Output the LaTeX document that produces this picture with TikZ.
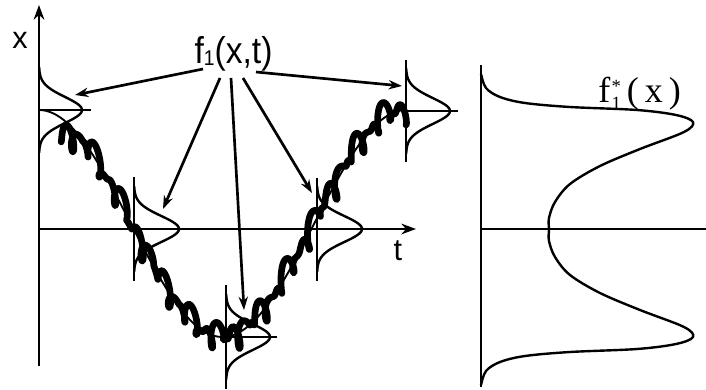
\documentclass[tikz,border=0pt]{standalone}
\usepackage{fontspec}
\setmainfont{Liberation Sans}
\newfontfamily\serifont{Liberation Serif}
\usetikzlibrary{arrows.meta}
\newcommand\gaussplot[4]{% base, center, amplitude, sigma
  \draw[pdf] plot[domain=-3.3:3.3, samples=70, smooth, variable=\u]
    ({#1 + #3*exp(-\u*\u/2)}, {#2 + #4*\u});}
\begin{document}
\begin{tikzpicture}[x=0.75pt,y=-0.75pt,
  declare function={m(\s)=223.5-113.5*cos(0.980926*(\s-39));},
  axis/.style={line width=2.2pt},
  axarrow/.style={axis,-{Stealth[length=11pt,width=8pt]}},
  pdf/.style={line width=1.8pt},
  meanline/.style={line width=1.4pt},
  noisy/.style={line width=5pt,line join=round,line cap=round},
  arr/.style={line width=2pt,-{Stealth[length=10pt,width=7pt]}},
  lab/.style={inner sep=0pt},
  ]
\useasboundingbox (0,0) rectangle (706,389);

% ---- left axes
\coordinate (xbot) at (39,366);
\coordinate (xtop) at (39,5);
\coordinate (t0) at (39,229);
\coordinate (t1) at (416,229);
\draw[axarrow] (xbot) -- (xtop);
\draw[axarrow] (t0) -- (t1);
\node[lab] (xlab) at (20,40) {\fontsize{23}{24}\selectfont x};
\node[lab] (tlab) at (398,251) {\fontsize{23}{24}\selectfont t};

% ---- mean trajectory
\draw[meanline] plot[domain=39:406, samples=120, smooth, variable=\t] (\t,{m(\t)});

% ---- noisy trajectory
\draw[noisy] plot[domain=62:405, samples=700, smooth, variable=\t]
  ({\t + 2.2*cos(26*\t) + 1.5*cos(41*mod(\t,87.805))},
   {m(\t) + 8*sin(26*\t) + 5*sin(41*mod(\t,87.805)+30) + 3*sin(11*\t)
     + 20*exp(-min((\t-62)/12,9))});

% ---- local densities
\gaussplot{39}{110}{43}{13}
\coordinate (h1a) at (39,110); \coordinate (h1b) at (91,110);
\draw[pdf] (h1a) -- (h1b);

\coordinate (v2a) at (134,177); \coordinate (v2b) at (134,281);
\draw[pdf] (v2a) -- (v2b);
\gaussplot{134}{229}{45}{13}

\coordinate (v3a) at (226,285); \coordinate (v3b) at (226,389);
\draw[pdf] (v3a) -- (v3b);
\gaussplot{226}{337}{44}{13}
\coordinate (h3a) at (226,337); \coordinate (h3b) at (277,337);
\draw[pdf] (h3a) -- (h3b);

\coordinate (v4a) at (317,178); \coordinate (v4b) at (317,281);
\draw[pdf] (v4a) -- (v4b);
\gaussplot{317}{229}{45}{13}

\coordinate (v5a) at (406,60); \coordinate (v5b) at (406,162);
\draw[pdf] (v5a) -- (v5b);
\gaussplot{406}{111}{44}{13}
\coordinate (h5a) at (406,111); \coordinate (h5b) at (458,111);
\draw[pdf] (h5a) -- (h5b);

% ---- label and arrows
\node[lab,anchor=base] (flab) at (233.5,63)
  {\fontsize{28}{30}\selectfont\scalebox{0.9}[1]{f\raisebox{-2pt}{\fontsize{16}{16}\selectfont 1}(x,t)}};
\coordinate (s1) at (203,69);  \coordinate (e1) at (75,95);
\coordinate (s2) at (220,78);  \coordinate (e2) at (163,209);
\coordinate (s3) at (231,78);  \coordinate (e3) at (244,310);
\coordinate (s4) at (243,78);  \coordinate (e4) at (312,193);
\coordinate (s5) at (256,72);  \coordinate (e5) at (402,86);
\draw[arr] (s1) -- (e1);
\draw[arr] (s2) -- (e2);
\draw[arr] (s3) -- (e3);
\draw[arr] (s4) -- (e4);
\draw[arr] (s5) -- (e5);

% ---- right panel: stationary density
\coordinate (ra) at (481,65); \coordinate (rb) at (481,387);
\coordinate (rh0) at (481,229); \coordinate (rh1) at (706,229);
\draw[axis] (ra) -- (rb);
\draw[axis] (rh0) -- (rh1);
\draw[pdf] plot[smooth, tension=0.55] coordinates {
 (481,74) (486,88) (500,97) (525,103) (570,107) (637,110) (676,115) (693,122)
 (684,132) (640,149) (600,166) (570,184) (555,202) (549,218) (549,229.5)
 (549,241) (555,257) (570,275) (600,293) (640,310) (684,327) (693,337)
 (676,344) (637,349) (570,352) (525,356) (500,362) (486,371) (481,385)};
\node[lab,anchor=base west] (fstar) at (598,102)
  {\serifont\fontsize{27}{30}\selectfont f\kern1pt\raisebox{-0.22em}{\fontsize{14}{15}\selectfont\shortstack[l]{*\\[0.05em]1}}\,(\,x\,)};
\end{tikzpicture}
\end{document}
